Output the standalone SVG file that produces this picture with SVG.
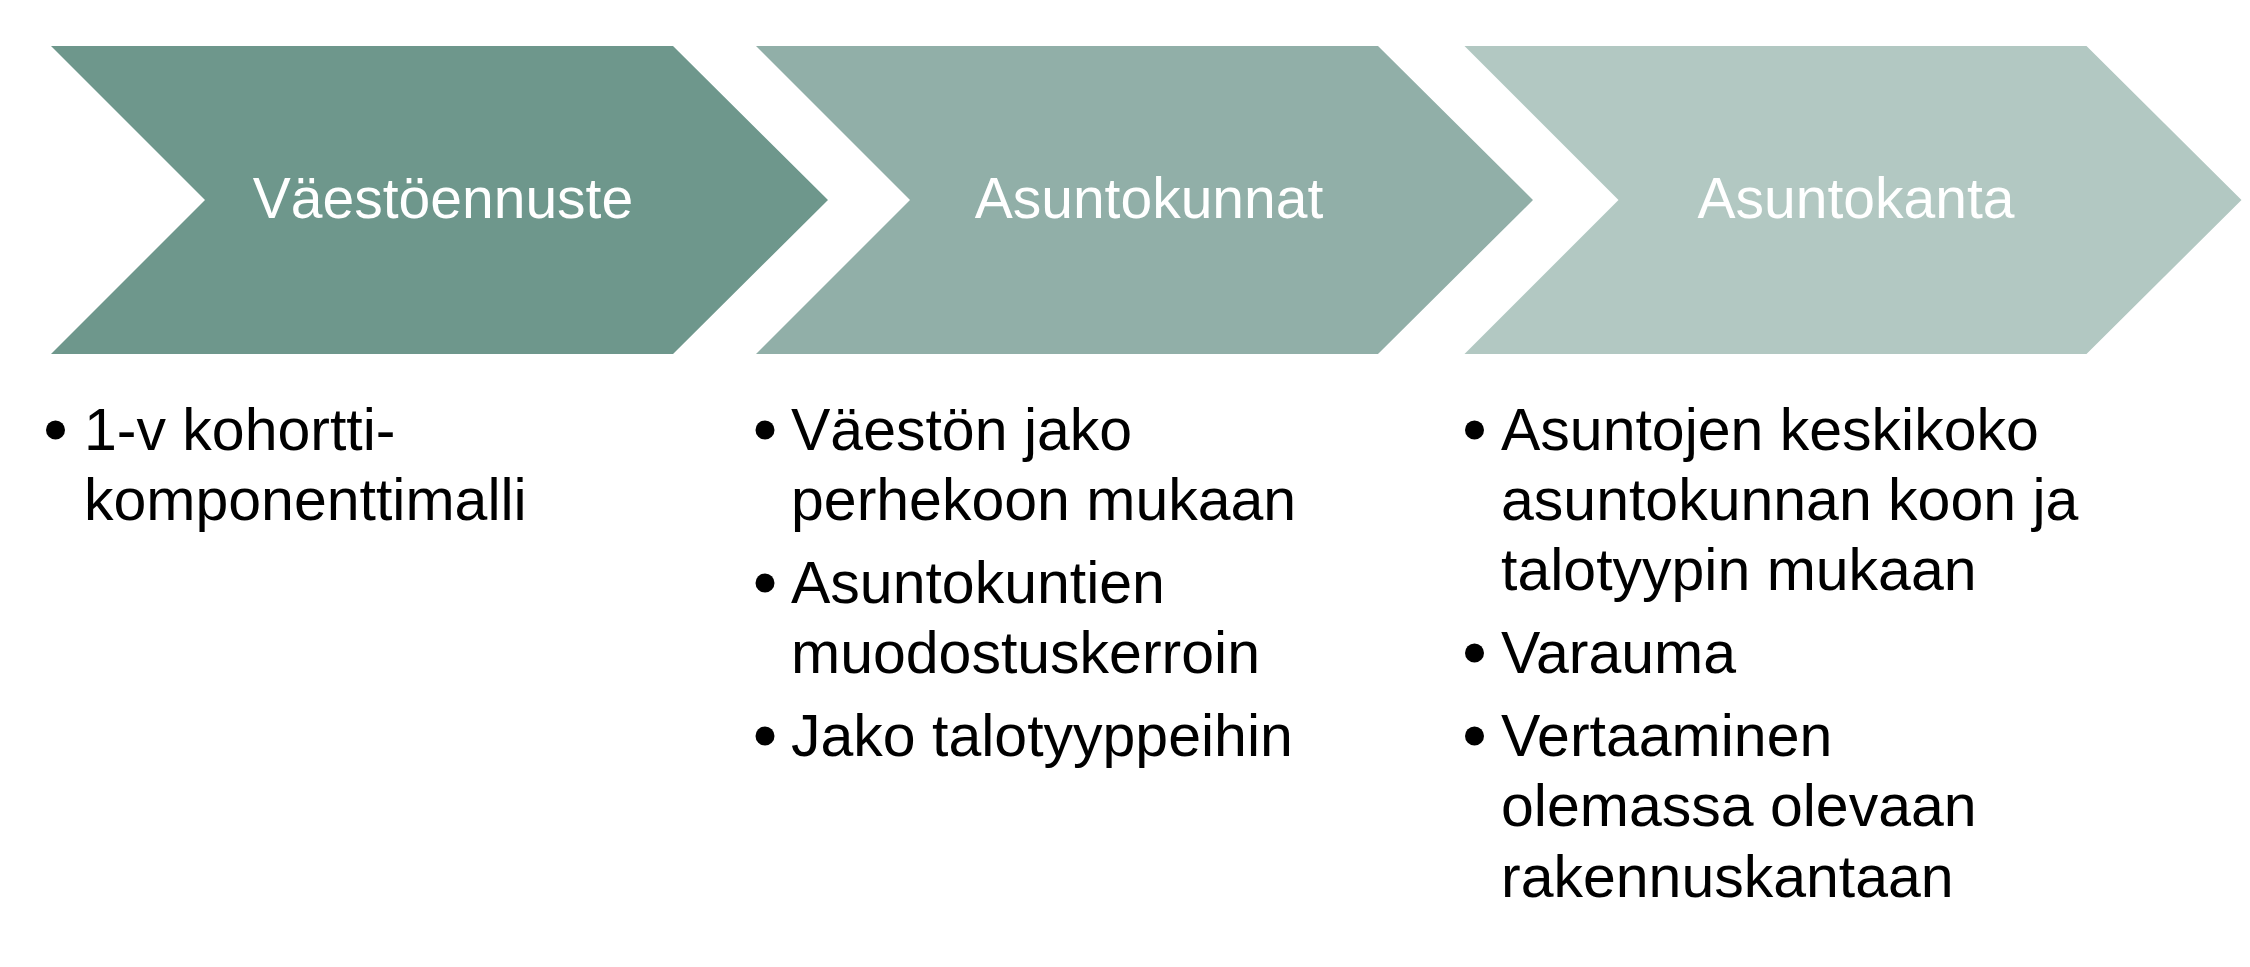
<svg xmlns="http://www.w3.org/2000/svg" width="2250" height="967" viewBox="0 0 2250 967">
<style>
.title{font-family:"Liberation Sans",Arial,sans-serif;font-size:57px;fill:#ffffff;text-anchor:middle}
.body{font-family:"Liberation Sans",Arial,sans-serif;font-size:59px;fill:#000000}
.dot{fill:#000000}
</style>
<rect width="2250" height="967" fill="#ffffff"/>
<g id="step1">
<polygon points="51,46 673,46 828,200 673,354 51,354 205,200" fill="#6E978C"/>
<text class="title" x="443" y="218">Väestöennuste</text>
</g>
<g id="step2">
<polygon points="756,46 1378,46 1533,200 1378,354 756,354 910,200" fill="#91AFA8"/>
<text class="title" x="1149" y="218">Asuntokunnat</text>
</g>
<g id="step3">
<polygon points="1464.5,46 2086.5,46 2241.5,200 2086.5,354 1464.5,354 1618.5,200" fill="#B2C8C2"/>
<text class="title" x="1856" y="218">Asuntokanta</text>
</g>
<g id="list1">
<circle class="dot" cx="55.5" cy="430" r="9.5"/>
<text class="body" x="84" y="450">1-v kohortti-</text>
<text class="body" x="84" y="520">komponenttimalli</text>
</g>
<g id="list2">
<circle class="dot" cx="765" cy="430" r="9.5"/>
<text class="body" x="791" y="450">Väestön jako</text>
<text class="body" x="791" y="520">perhekoon mukaan</text>
<circle class="dot" cx="765" cy="583" r="9.5"/>
<text class="body" x="791" y="603">Asuntokuntien</text>
<text class="body" x="791" y="673">muodostuskerroin</text>
<circle class="dot" cx="765" cy="736" r="9.5"/>
<text class="body" x="791" y="756">Jako talotyyppeihin</text>
</g>
<g id="list3">
<circle class="dot" cx="1474.5" cy="430" r="9.5"/>
<text class="body" x="1501" y="450">Asuntojen keskikoko</text>
<text class="body" x="1501" y="520">asuntokunnan koon ja</text>
<text class="body" x="1501" y="590">talotyypin mukaan</text>
<circle class="dot" cx="1474.5" cy="653" r="9.5"/>
<text class="body" x="1501" y="673">Varauma</text>
<circle class="dot" cx="1474.5" cy="736" r="9.5"/>
<text class="body" x="1501" y="756">Vertaaminen</text>
<text class="body" x="1501" y="826">olemassa olevaan</text>
<text class="body" x="1501" y="897">rakennuskantaan</text>
</g>
<g id="connectors"/>
</svg>
